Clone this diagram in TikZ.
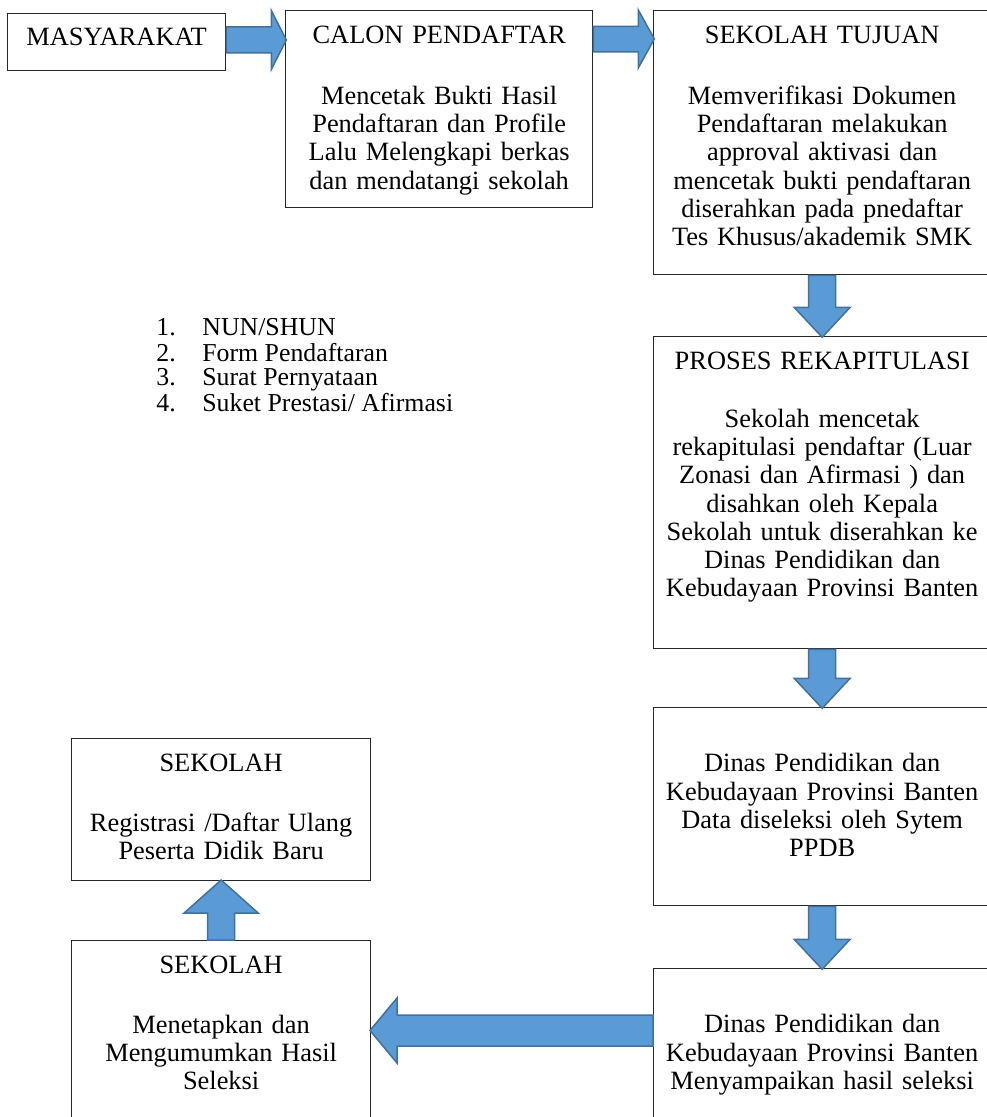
\documentclass[tikz,border=0pt]{standalone}
\usepackage{fontspec}
\setmainfont{Liberation Serif}
\usetikzlibrary{positioning, calc}
\definecolor{arrowBlue}{RGB}{91, 155, 213}
\definecolor{arrowEdge}{RGB}{65, 113, 156}
\definecolor{boxLine}{RGB}{40, 40, 40}

\begin{document}
\begin{tikzpicture}[
    x=0.5pt, y=-0.5pt,
    box/.style={
        rectangle, draw=boxLine, line width=0.65pt, anchor=north west, inner sep=0pt
    },
    boxtext/.style={font=\fontsize{13.2}{14.15}\selectfont, align=center, text width=170pt, inner sep=0pt},
    listtext/.style={font=\fontsize{12.9}{12.35}\selectfont, anchor=north west, inner sep=0pt},
    blockarrow/.style={fill=arrowBlue, draw=arrowEdge, line width=0.75pt, line join=miter}
]
\useasboundingbox (0,0) rectangle (986,1117);
% boxes
\node[box, minimum width=109pt, minimum height=28.5pt] (masy) at (7,13) {};
\node[box, minimum width=153.5pt, minimum height=98.5pt] (calon) at (285,10) {};
\node[box, minimum width=168.5pt, minimum height=132pt] (tujuan) at (653,10) {};
\node[box, minimum width=168.5pt, minimum height=156pt] (rekap) at (653,336) {};
\node[box, minimum width=168.5pt, minimum height=99pt] (dinasA) at (653,707) {};
\node[box, minimum width=168.5pt, minimum height=90pt] (dinasB) at (653,968) {};
\node[box, minimum width=149.5pt, minimum height=71pt] (sekA) at (71,738) {};
\node[box, minimum width=149.5pt, minimum height=95pt] (sekB) at (71,940) {};
% texts
\node[boxtext, below=7.5pt of masy.north] (masy-txt) {MASYARAKAT};
\node[boxtext, below=8pt of calon.north] (calon-txt) {CALON PENDAFTAR\\[16pt]
    Mencetak Bukti Hasil\\ Pendaftaran dan Profile\\ Lalu Melengkapi berkas\\ dan mendatangi sekolah};
\node[boxtext, below=8pt of tujuan.north] (tujuan-txt) {SEKOLAH TUJUAN\\[16pt]
    Memverifikasi Dokumen\\ Pendaftaran melakukan\\ approval aktivasi dan\\ mencetak bukti pendaftaran\\
    diserahkan pada pnedaftar\\ Tes Khusus/akademik SMK};
\node[boxtext, below=8pt of rekap.north] (rekap-txt) {PROSES REKAPITULASI\\[14.5pt]
    Sekolah mencetak\\ rekapitulasi pendaftar (Luar\\ Zonasi dan Afirmasi ) dan\\ disahkan oleh Kepala\\
    Sekolah untuk diserahkan ke\\ Dinas Pendidikan dan\\ Kebudayaan Provinsi Banten};
\node[boxtext, below=23pt of dinasA.north] (dinasA-txt) {Dinas Pendidikan dan\\
    Kebudayaan Provinsi Banten\\ Data diseleksi oleh Sytem\\ PPDB};
\node[boxtext, below=23pt of dinasB.north] (dinasB-txt) {Dinas Pendidikan dan\\
    Kebudayaan Provinsi Banten\\ Menyampaikan hasil seleksi};
\node[boxtext, below=8pt of sekA.north] (sekA-txt) {SEKOLAH\\[15.5pt]
    Registrasi /Daftar Ulang\\ Peserta Didik Baru};
\node[boxtext, below=8pt of sekB.north] (sekB-txt) {SEKOLAH\\[15.5pt]
    Menetapkan dan\\ Mengumumkan Hasil\\ Seleksi};
\node[listtext] (docs) at (156,318) {\begin{tabular}{@{}p{23pt}@{}l@{}}
    1. & NUN/SHUN\\
    2. & Form Pendaftaran\\
    3. & Surat Pernyataan\\
    4. & Suket Prestasi/ Afirmasi
\end{tabular}};
% block arrows
\draw[blockarrow] (masy.north east) ++(0,14) -- ++(45,0) -- ++(0,-16.5) -- ++(15,29.5)
    -- ++(-15,29.5) -- ++(0,-16.5) -- ++(-45,0) -- cycle;
\draw[blockarrow] (calon.north east) ++(0,16.5) -- ++(45,0) -- ++(0,-16.5) -- ++(16,29)
    -- ++(-16,29) -- ++(0,-16) -- ++(-45,0) -- cycle;
\draw[blockarrow] (tujuan.south) ++(-13.5,0) -- ++(0,32) -- ++(-14.5,0) -- ++(28,30)
    -- ++(28,-30) -- ++(-14.5,0) -- ++(0,-32) -- cycle;
\draw[blockarrow] (rekap.south) ++(-13.5,0) -- ++(0,29) -- ++(-14.5,0) -- ++(28,30)
    -- ++(28,-30) -- ++(-14.5,0) -- ++(0,-29) -- cycle;
\draw[blockarrow] (dinasA.south) ++(-13.5,0) -- ++(0,33) -- ++(-14.5,0) -- ++(28,30)
    -- ++(28,-30) -- ++(-14.5,0) -- ++(0,-33) -- cycle;
\draw[blockarrow] (dinasB.north west) ++(0,47) -- ++(-256,0) -- ++(0,-17) -- ++(-27,32.5)
    -- ++(27,32.5) -- ++(0,-17) -- ++(256,0) -- cycle;
\draw[blockarrow] (sekB.north) ++(-13.5,0) -- ++(0,-27) -- ++(-23.5,0) -- ++(37,-33)
    -- ++(37,33) -- ++(-23.5,0) -- ++(0,27) -- cycle;
\end{tikzpicture}
\end{document}
